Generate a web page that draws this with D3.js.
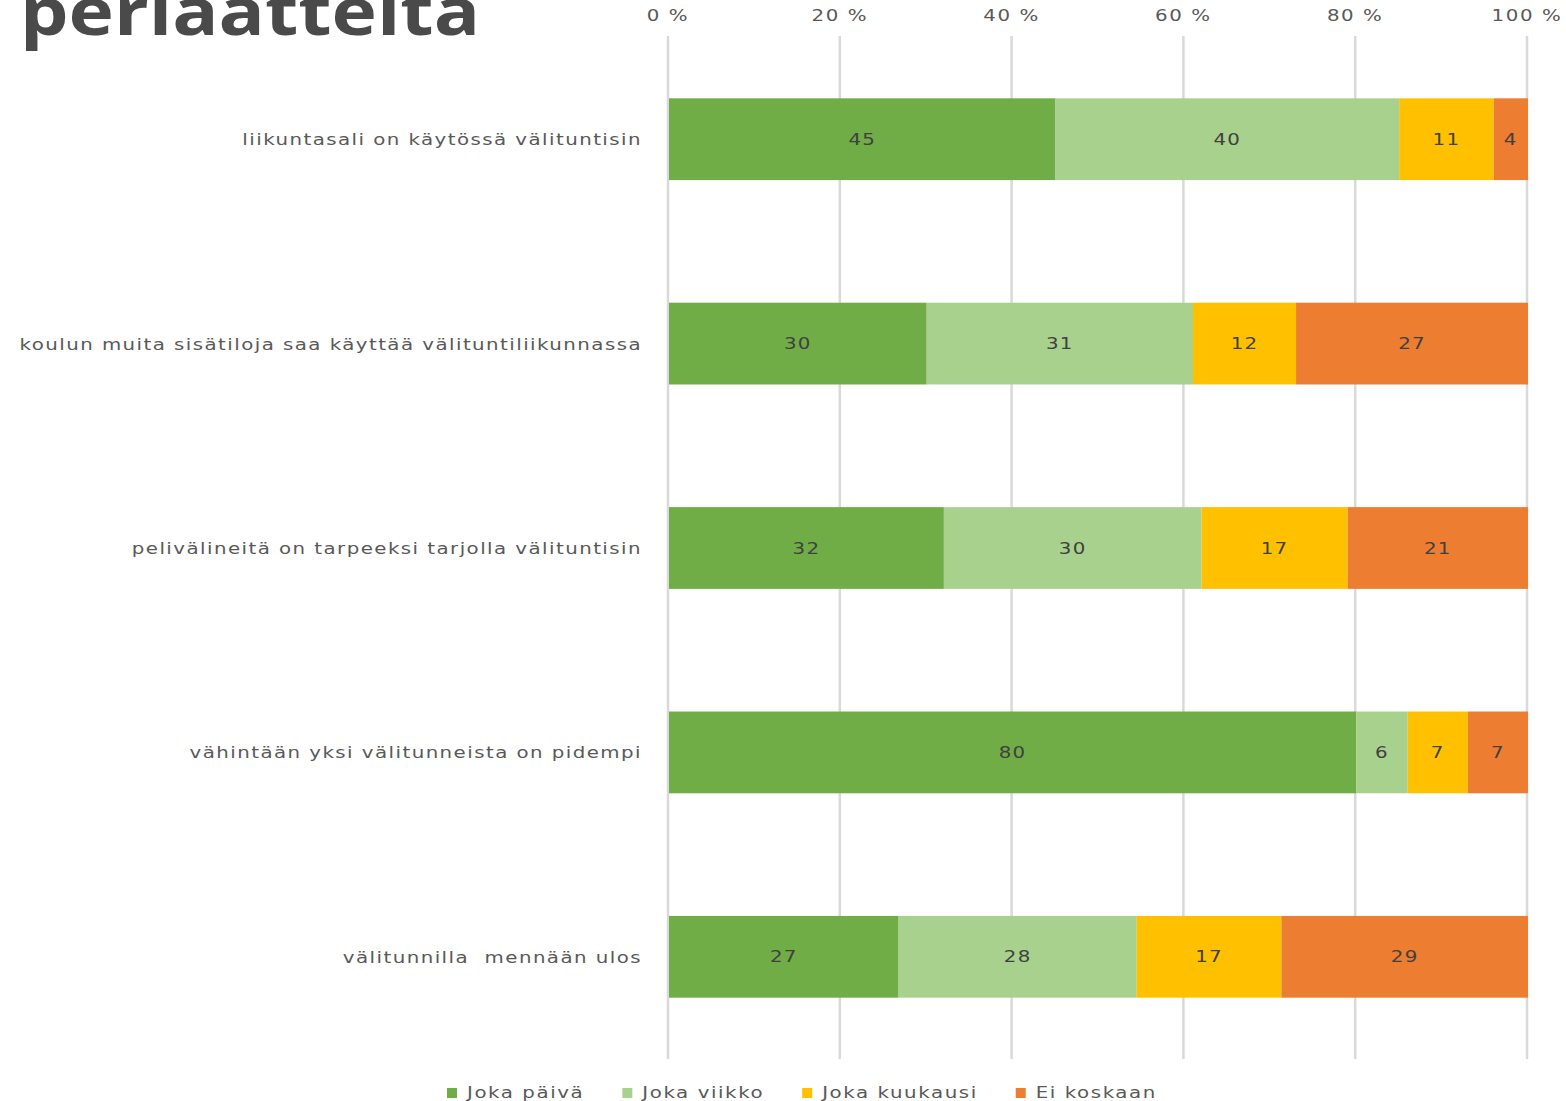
<!DOCTYPE html>
<html>

<head>
    <meta charset="utf-8">
    <style type="text/css">
    html,
    body {
        margin: 0px;
        padding: 0px;
        background: #fff;
        font-family: 'DejaVu Sans', sans-serif;
    }

    .grid line {
        stroke: #d9d9d9;
        stroke-width: 2.5px;
    }

    .tick-label,
    .cat-label,
    .legend-label {
        fill: #595959;
        font-size: 15px;
        letter-spacing: 1.2px;
    }

    .cat-label {
        letter-spacing: 1.1px;
    }

    .value-label {
        fill: #404040;
        font-size: 15px;
        letter-spacing: 1px;
    }
    </style>
    <script src="https://d3js.org/d3.v7.min.js"></script>
    <title>periaatteita</title>
</head>

<body>
</body>
<script type="text/javascript">
// dimensions
var width = 1566;
var height = 1101;

// the source picture is stretched sideways, so text is too
var stretch = 1.32;

// data
var categories = [
    "liikuntasali on käytössä välituntisin",
    "koulun muita sisätiloja saa käyttää välituntiliikunnassa",
    "pelivälineitä on tarpeeksi tarjolla välituntisin",
    "vähintään yksi välitunneista on pidempi",
    "välitunnilla  mennään ulos"
];
var seriesNames = ["Joka päivä", "Joka viikko", "Joka kuukausi", "Ei koskaan"];
var jokaPaiva = [45, 30, 32, 80, 27];
var jokaViikko = [40, 31, 30, 6, 28];
var jokaKuukausi = [11, 12, 17, 7, 17];
var eiKoskaan = [4, 27, 21, 7, 29];
var tickValues = [0, 0.2, 0.4, 0.6, 0.8, 1];
var colours = ["#70ad47", "#a9d18e", "#ffc000", "#ed7d31"];

// build rows for the stack
var rows = categories.map(function(c, i) {
    var r = { category: c };
    r[seriesNames[0]] = jokaPaiva[i];
    r[seriesNames[1]] = jokaViikko[i];
    r[seriesNames[2]] = jokaKuukausi[i];
    r[seriesNames[3]] = eiKoskaan[i];
    return r;
});

var stacked = d3.stack()
    .keys(seriesNames)
    .offset(d3.stackOffsetExpand)(rows);

var svg = d3.select("body")
    .append("svg")
    .attr("width", width)
    .attr("height", height);

var plot = { left: 668, right: 1527, top: 37, bottom: 1059 };

var x = d3.scaleLinear()
    .domain([0, 1])
    .range([plot.left, plot.right]);

var y = d3.scaleBand()
    .domain(categories)
    .range([plot.top, plot.bottom])
    .paddingInner(0.6)
    .paddingOuter(0.3);

var colour = d3.scaleOrdinal()
    .domain(seriesNames)
    .range(colours);

// put stretched text at x,y
function stretchText(sel, tx, ty) {
    sel.attr("transform", function(d, i) {
        return "translate(" + tx(d, i) + "," + ty(d, i) + ") scale(" + stretch + ",1)";
    });
}

// title, cut off at the top like the slide
svg.append("text")
    .attr("x", 20)
    .attr("y", 35)
    .attr("textLength", 460)
    .attr("lengthAdjust", "spacingAndGlyphs")
    .style("font-family", "'Open Sans', sans-serif")
    .style("font-weight", "bold")
    .style("font-size", "66px")
    .style("fill", "#4a4a4a")
    .text("periaatteita");

// vertical gridlines
svg.append("g")
    .attr("class", "grid")
    .selectAll("line")
    .data(tickValues)
    .enter()
    .append("line")
    .attr("x1", function(d) { return x(d); })
    .attr("x2", function(d) { return x(d); })
    .attr("y1", plot.top - 1)
    .attr("y2", plot.bottom);

// tick labels along the top
svg.append("g")
    .selectAll("text")
    .data(tickValues)
    .enter()
    .append("text")
    .attr("class", "tick-label")
    .attr("text-anchor", "middle")
    .call(stretchText, function(d) { return x(d); }, function() { return 21; })
    .text(function(d) { return Math.round(d * 100) + " %"; });

// bars
var layer = svg.append("g")
    .selectAll("g")
    .data(stacked)
    .enter()
    .append("g")
    .attr("fill", function(d) { return colour(d.key); });

layer.selectAll("rect")
    .data(function(d) { return d; })
    .enter()
    .append("rect")
    .attr("x", function(d) { return x(d[0]) + 1; })
    .attr("y", function(d) { return y(d.data.category); })
    .attr("width", function(d) { return x(d[1]) - x(d[0]); })
    .attr("height", y.bandwidth());

// value labels
layer.each(function(s) {
    d3.select(this).selectAll("text")
        .data(s)
        .enter()
        .append("text")
        .attr("class", "value-label")
        .attr("text-anchor", "middle")
        .call(stretchText,
            function(d) { return (x(d[0]) + x(d[1])) / 2 + 1; },
            function(d) { return y(d.data.category) + y.bandwidth() / 2 + 5.5; })
        .text(function(d) { return d.data[s.key]; });
});

// category labels
svg.append("g")
    .selectAll("text")
    .data(categories)
    .enter()
    .append("text")
    .attr("class", "cat-label")
    .attr("text-anchor", "end")
    .style("white-space", "pre")
    .call(stretchText, function() { return 642; },
        function(d) { return y(d) + y.bandwidth() / 2 + 6; })
    .text(function(d) { return d; });

// legend
var legend = svg.append("g");
var lx = 447;
seriesNames.forEach(function(name) {
    legend.append("rect")
        .attr("x", lx)
        .attr("y", 1088)
        .attr("width", 10)
        .attr("height", 10)
        .attr("fill", colour(name));
    var t = legend.append("text")
        .attr("class", "legend-label")
        .attr("transform", "translate(" + (lx + 20) + ",1098) scale(" + stretch + ",1)")
        .text(name);
    lx += 20 + t.node().getComputedTextLength() * stretch + 38;
});
</script>

</html>
